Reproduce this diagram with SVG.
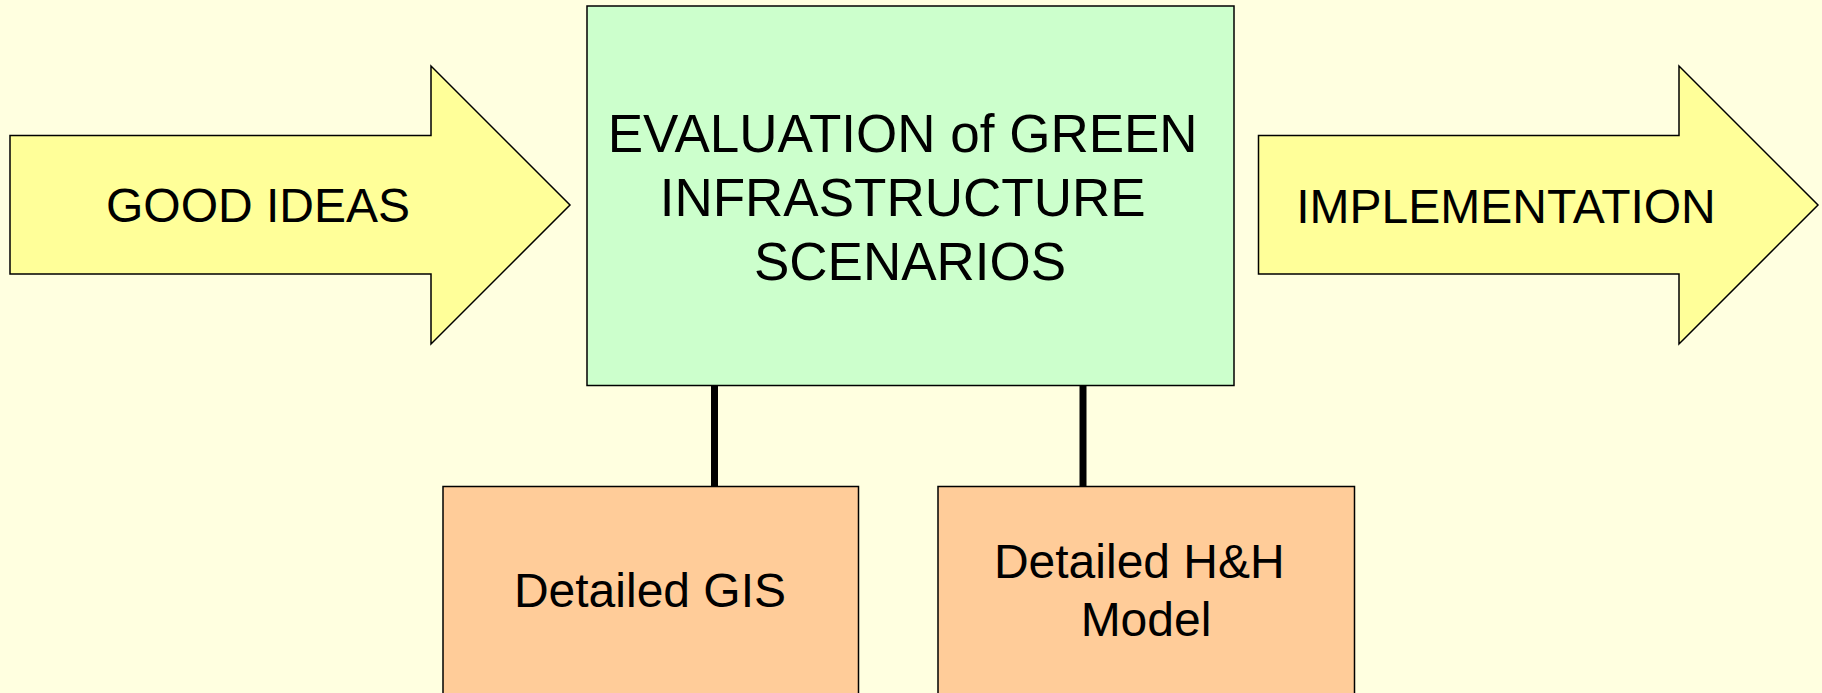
<svg xmlns="http://www.w3.org/2000/svg" width="1822" height="693" viewBox="0 0 1822 693">
  <style>
    .lbl { font-family: "Liberation Sans", Arial, sans-serif; fill: #000; text-anchor: middle; }
    .arrow { fill: #FFFF99; stroke: #000; stroke-width: 1.5; stroke-linejoin: miter; }
    .main { fill: #CCFFCC; stroke: #000; stroke-width: 1.5; }
    .sub { fill: #FFCC99; stroke: #000; stroke-width: 1.5; }
    .conn { stroke: #000; stroke-width: 7; fill: none; }
  </style>
  <rect x="0" y="0" width="1822" height="693" fill="#FFFFE0"/>
  <g id="connectors">
    <line class="conn" x1="714.5" y1="386" x2="714.5" y2="486"/>
    <line class="conn" x1="1083" y1="386" x2="1083" y2="486"/>
  </g>
  <g id="good-ideas">
    <polygon class="arrow" points="10,135.5 431,135.5 431,66 570,205 431,344 431,274 10,274"/>
    <text class="lbl" x="258" y="222" font-size="48">GOOD IDEAS</text>
  </g>
  <g id="evaluation">
    <rect class="main" x="587" y="6" width="647" height="379.5"/>
    <text class="lbl" font-size="53">
      <tspan x="910" y="152">EVALUATION of GREEN</tspan>
      <tspan x="910" y="216">INFRASTRUCTURE</tspan>
      <tspan x="910" y="280">SCENARIOS</tspan>
    </text>
  </g>
  <g id="implementation">
    <polygon class="arrow" points="1258.5,135.5 1679,135.5 1679,66 1818,205 1679,344 1679,274 1258.5,274"/>
    <text class="lbl" x="1506" y="223" font-size="48">IMPLEMENTATION</text>
  </g>
  <g id="gis">
    <rect class="sub" x="443" y="486.5" width="415.5" height="220"/>
    <text class="lbl" x="650" y="607" font-size="48">Detailed GIS</text>
  </g>
  <g id="hh-model">
    <rect class="sub" x="938" y="486.5" width="416.5" height="220"/>
    <text class="lbl" font-size="48">
      <tspan x="1146" y="578">Detailed H&amp;H</tspan>
      <tspan x="1146" y="636">Model</tspan>
    </text>
  </g>
</svg>
